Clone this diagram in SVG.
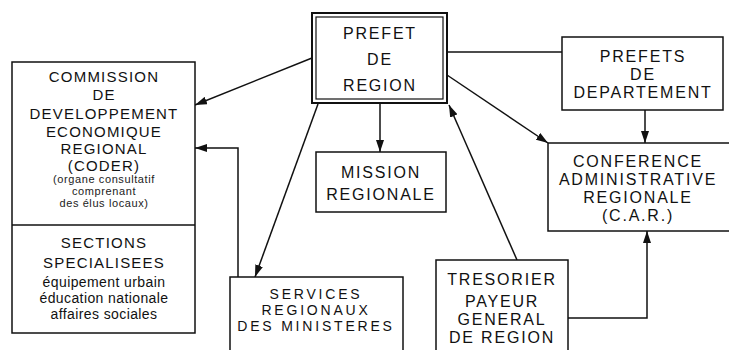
<svg xmlns="http://www.w3.org/2000/svg" width="729" height="350" viewBox="0 0 729 350">
<style>
.box{fill:#fff;stroke:#111;stroke-width:1.5}
.t{font-family:"Liberation Sans",Arial,sans-serif;font-size:16px;fill:#111;text-anchor:middle;letter-spacing:1.8px}
.sv{font-family:"Liberation Sans",Arial,sans-serif;font-size:14px;fill:#111;text-anchor:middle;letter-spacing:2.8px}
.cm{font-family:"Liberation Sans",Arial,sans-serif;font-size:15px;fill:#111;text-anchor:middle;letter-spacing:1.2px}
.s{font-family:"Liberation Sans",Arial,sans-serif;font-size:11px;fill:#222;text-anchor:middle;letter-spacing:0.6px}
.l{font-family:"Liberation Sans",Arial,sans-serif;font-size:14px;fill:#111;text-anchor:middle;letter-spacing:0.4px}
.c{fill:none;stroke:#111;stroke-width:1.5}
</style>
<defs>
<marker id="ah" viewBox="0 0 12 8" refX="12" refY="4" markerWidth="12" markerHeight="8" markerUnits="userSpaceOnUse" orient="auto">
<path d="M0,0 L12,4 L0,8 z" fill="#111"/>
</marker>
</defs>
<rect width="729" height="350" fill="#fff"/>
<g id="connectors">
<line class="c" x1="312" y1="58" x2="195" y2="105" marker-end="url(#ah)"/>
<polyline class="c" points="238,277 238,148 195,148" marker-end="url(#ah)"/>
<line class="c" x1="318" y1="104" x2="255" y2="277" marker-end="url(#ah)"/>
<line class="c" x1="380" y1="104" x2="380" y2="152" marker-end="url(#ah)"/>
<line class="c" x1="517" y1="260" x2="449" y2="105" marker-end="url(#ah)"/>
<polyline class="c" points="568,318 647,318 647,231" marker-end="url(#ah)"/>
<line class="c" x1="447" y1="52" x2="562" y2="52"/>
<line class="c" x1="645" y1="110" x2="645" y2="143" marker-end="url(#ah)"/>
<line class="c" x1="447" y1="75" x2="548" y2="143" marker-end="url(#ah)"/>
</g>
<g id="commission">
<rect class="box" x="12" y="62" width="183" height="271"/>
<line class="c" x1="12" y1="225" x2="195" y2="225"/>
<text class="cm" x="104" y="82">COMMISSION</text>
<text class="cm" x="104" y="100">DE</text>
<text class="cm" x="104" y="119">DEVELOPPEMENT</text>
<text class="cm" x="104" y="137">ECONOMIQUE</text>
<text class="cm" x="104" y="154">REGIONAL</text>
<text class="cm" x="104" y="171">(CODER)</text>
<text class="s" x="104" y="183">(organe consultatif</text>
<text class="s" x="104" y="195">comprenant</text>
<text class="s" x="104" y="207">des élus locaux)</text>
<text class="cm" x="104" y="248">SECTIONS</text>
<text class="cm" x="104" y="268">SPECIALISEES</text>
<text class="l" x="104" y="287">équipement urbain</text>
<text class="l" x="104" y="303">éducation nationale</text>
<text class="l" x="104" y="319">affaires sociales</text>
</g>
<g id="prefet-region">
<rect x="312" y="13" width="135" height="90" fill="#fff" stroke="#111" stroke-width="2"/>
<rect x="316" y="17" width="127" height="82" fill="none" stroke="#111" stroke-width="1.2"/>
<text class="t" x="380" y="39">PREFET</text>
<text class="t" x="380" y="65">DE</text>
<text class="t" x="380" y="91">REGION</text>
</g>
<g id="mission">
<rect class="box" x="316" y="152" width="130" height="60"/>
<text class="t" x="381" y="178">MISSION</text>
<text class="t" x="381" y="200">REGIONALE</text>
</g>
<g id="prefets-departement">
<rect class="box" x="562" y="37" width="161" height="73"/>
<text class="t" x="643" y="62">PREFETS</text>
<text class="t" x="643" y="80">DE</text>
<text class="t" x="643" y="98">DEPARTEMENT</text>
</g>
<g id="car">
<rect class="box" x="548" y="143" width="190" height="88"/>
<text class="t" x="638" y="167">CONFERENCE</text>
<text class="t" x="638" y="185">ADMINISTRATIVE</text>
<text class="t" x="638" y="203">REGIONALE</text>
<text class="t" x="638" y="221">(C.A.R.)</text>
</g>
<g id="services">
<rect class="box" x="230" y="277" width="173" height="90"/>
<text class="sv" x="316" y="299">SERVICES</text>
<text class="sv" x="316" y="315">REGIONAUX</text>
<text class="sv" x="316" y="331">DES MINISTERES</text>
</g>
<g id="tresorier">
<rect class="box" x="436" y="260" width="132" height="110"/>
<text class="t" x="502" y="285">TRESORIER</text>
<text class="t" x="502" y="307">PAYEUR</text>
<text class="t" x="502" y="325">GENERAL</text>
<text class="t" x="502" y="343">DE REGION</text>
</g>
</svg>
